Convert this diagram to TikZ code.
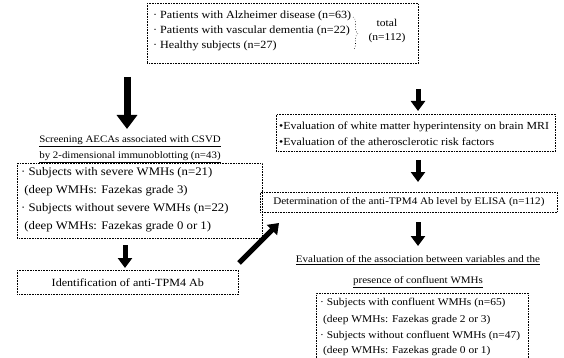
\documentclass[tikz,border=0pt]{standalone}
\usepackage{fontspec}
\setmainfont{Liberation Serif}[FakeStretch=1.1]
\usetikzlibrary{arrows.meta,decorations.pathreplacing}
\begin{document}
\begin{tikzpicture}[x=1pt,y=-1pt,
  font=\fontsize{10}{15.5}\selectfont,
  dbox/.style={draw, dash pattern=on 0.8pt off 0.8pt, line width=0.7pt, inner sep=0pt, anchor=north west},
  txt/.style={anchor=west, inner sep=0pt},
  bigarrow/.style={line width=7pt, -{Triangle[width=20pt,length=14pt]}},
  arr/.style={line width=5pt, -{Triangle[width=14pt,length=10pt]}},
  ftop/.style={font=\fontsize{11}{13}\selectfont},
  fleft/.style={font=\fontsize{11.6}{13}\selectfont},
  fright/.style={font=\fontsize{10.4}{12}\selectfont},
  fhead/.style={font=\fontsize{9.9}{16}\selectfont},
]
\clip (0,0) rectangle (564,358);
\fill[white] (0,0) rectangle (564,358);

% top box
\node[dbox, minimum width=271pt, minimum height=60pt] (top) at (147,3) {};
\node[txt, ftop] (t1) at (153,16) {· Patients with Alzheimer disease (n=63)};
\node[txt, ftop] (t2) at (153,31) {· Patients with vascular dementia (n=22)};
\node[txt, ftop] (t3) at (153,46) {· Healthy subjects (n=27)};
\draw[decorate, decoration={brace, amplitude=5pt}, dotted, line width=0.6pt] (353,17) -- (353,50);
\node[align=center, inner sep=0pt, font=\fontsize{10.5}{13.5}\selectfont] (tot) at (387,31) {total\\(n=112)};

% left column
\coordinate (la1) at (127,77);
\coordinate (la2) at (127,129);
\draw[bigarrow] (la1) -- (la2);
\node[align=center, inner sep=0pt, fhead] (scr) at (130,149)
  {\underline{Screening AECAs associated with CSVD}\\\underline{by 2-dimensional immunoblotting (n=43)}};
\node[dbox, minimum width=245pt, minimum height=75pt] (lbox) at (17,163) {};
\node[txt, fleft] (l1) at (21,173) {· Subjects with severe WMHs (n=21)};
\node[txt, fleft] (l2) at (21,191) {\ (deep WMHs: Fazekas grade 3)};
\node[txt, fleft] (l3) at (21,209) {· Subjects without severe WMHs (n=22)};
\node[txt, fleft] (l4) at (21,227) {\ (deep WMHs: Fazekas grade 0 or 1)};
\coordinate (la3) at (125,245);
\coordinate (la4) at (125,268);
\draw[arr] (la3) -- (la4);
\node[dbox, minimum width=221pt, minimum height=24pt] (ident) at (17,270) {};
\node[inner sep=0pt, font=\fontsize{11}{12}\selectfont] (identt) at (ident.center) {Identification of anti-TPM4 Ab};
\coordinate (d1) at (239,263);
\coordinate (d2) at (279,223);
\draw[arr] (d1) -- (d2);

% right column
\coordinate (ra1) at (418,89);
\coordinate (ra2) at (418,111);
\draw[arr] (ra1) -- (ra2);
\node[dbox, minimum width=279pt, minimum height=37pt] (mri) at (276,114) {};
\node[txt, font=\fontsize{10.8}{13}\selectfont] (m1) at (279,127) {•Evaluation of white matter hyperintensity on brain MRI};
\node[txt, font=\fontsize{10.8}{13}\selectfont] (m2) at (279,142) {•Evaluation of the atherosclerotic risk factors};
\coordinate (ra3) at (418,160);
\coordinate (ra4) at (418,182);
\draw[arr] (ra3) -- (ra4);
\node[dbox, minimum width=297pt, minimum height=20pt] (elisa) at (260,192) {};
\node[inner sep=0pt, font=\fontsize{10.1}{12}\selectfont] (elisat) at (elisa.center) {Determination of the anti-TPM4 Ab level by ELISA (n=112)};
\coordinate (ra5) at (418,222);
\coordinate (ra6) at (418,246);
\draw[arr] (ra5) -- (ra6);
\node[align=center, inner sep=0pt, font=\fontsize{10}{21}\selectfont] (assoc) at (418,272)
  {\underline{Evaluation of the association between variables and the}\\\underline{presence of confluent WMHs}};
\node[dbox, minimum width=212pt, minimum height=80pt] (rbox) at (316,293) {};
\node[txt, fright] (r1) at (320,303) {· Subjects with confluent WMHs (n=65)};
\node[txt, fright] (r2) at (320,320) {\ (deep WMHs: Fazekas grade 2 or 3)};
\node[txt, fright] (r3) at (320,336) {· Subjects without confluent WMHs (n=47)};
\node[txt, fright] (r4) at (320,351) {\ (deep WMHs: Fazekas grade 0 or 1)};
\end{tikzpicture}
\end{document}
